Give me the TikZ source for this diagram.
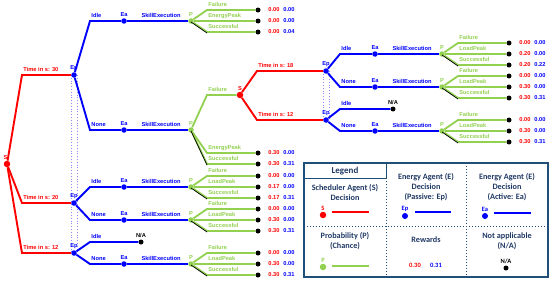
\documentclass[tikz,border=0pt]{standalone}
\usepackage{fontspec}
\setmainfont{Liberation Sans}
\newfontfamily\legfont{Carlito}
\usetikzlibrary{positioning}
\definecolor{pgreen}{RGB}{146,208,80}
\definecolor{legtext}{RGB}{31,56,100}
\definecolor{legline}{RGB}{31,78,121}
\tikzset{
  dot/.style={circle, inner sep=0pt, minimum size=5.5pt},
  sdot/.style={dot, fill=red, minimum size=6.5pt},
  edot/.style={dot, fill=blue},
  pdot/.style={dot, fill=pgreen},
  enddot/.style={dot, fill=black, minimum size=5pt},
  lbl/.style={font=\bfseries\fontsize{5.7}{6}\selectfont, inner sep=0.5pt},
  over/.style={pos=0, anchor=south west, text depth=1.2pt, yshift=0.5pt},
  mid/.style={midway, anchor=south, text depth=1.2pt, yshift=0.5pt, xshift=3.5pt},
  sline/.style={red, line width=1.9pt},
  eline/.style={blue, line width=1.9pt},
  pline/.style={pgreen, line width=1.8pt},
  infoset/.style={blue!45, dotted, line width=0.8pt},
  legtxt/.style={font=\legfont\bfseries\fontsize{8.2}{10}\selectfont, text=legtext, align=center, inner sep=0pt},
  legsym/.style={font=\legfont\bfseries\fontsize{6.5}{7}\selectfont, inner sep=0.5pt},
  legdiv/.style={legline, dotted, line width=1pt},
}
\begin{document}
\begin{tikzpicture}[x=1pt, y=-1pt]
\useasboundingbox (0,0) rectangle (550,281);

% information sets
\draw[infoset] (71,75) rectangle (77,253);
\draw[infoset] (323,71) rectangle (329,120);

% scheduler agent decisions
\node[sdot] (s0) at (7,164) {};
\node[sdot] (s1) at (240,95) {};
% passive energy agent
\node[edot] (ep30) at (74,75) {};
\node[edot] (ep20) at (74,203) {};
\node[edot] (ep12) at (74,253) {};
\node[edot] (ep18) at (326,71) {};
\node[edot] (ep12b) at (326,120) {};
% active energy agent
\node[edot] (ea1) at (124,21) {};
\node[edot] (ea2) at (124,130) {};
\node[edot] (ea3) at (124,187) {};
\node[edot] (ea4) at (124,220) {};
\node[edot] (ea5) at (124,264) {};
\node[edot] (ea6) at (375,54) {};
\node[edot] (ea7) at (375,87) {};
\node[edot] (ea8) at (375,131) {};
% chance
\node[pdot] (p1) at (191,21) {};
\node[pdot] (p2) at (191,130) {};
\node[pdot] (p3) at (191,187) {};
\node[pdot] (p4) at (191,220) {};
\node[pdot] (p5) at (191,264) {};
\node[pdot] (p6) at (442,54) {};
\node[pdot] (p7) at (442,87) {};
\node[pdot] (p8) at (442,131) {};
% not applicable
\node[enddot] (na1) at (141,242) {};
\node[enddot] (na2) at (393,109) {};

% scheduler branches
\draw[sline] (s0) -- (22,75) -- node[lbl, red, over] (t30) {Time in s: 30} (ep30);
\draw[sline] (s0) -- (22,203) -- node[lbl, red, over] (t20) {Time in s: 20} (ep20);
\draw[sline] (s0) -- (22,253) -- node[lbl, red, over] (t12) {Time in s: 12} (ep12);
\draw[sline] (s1) -- (257,71) -- node[lbl, red, over] (t18) {Time in s: 18} (ep18);
\draw[sline] (s1) -- (257,120) -- node[lbl, red, over] (t12b) {Time in s: 12} (ep12b);

% energy agent branches
\draw[eline] (ep30) -- (90,21) -- node[lbl, blue, over] (i1) {Idle} (ea1);
\draw[eline] (ep30) -- (90,130) -- node[lbl, blue, over] (n1) {None} (ea2);
\draw[eline] (ep20) -- (90,187) -- node[lbl, blue, over] (i2) {Idle} (ea3);
\draw[eline] (ep20) -- (90,220) -- node[lbl, blue, over] (n2) {None} (ea4);
\draw[eline] (ep12) -- (90,242) -- node[lbl, blue, over] (i3) {Idle} (na1);
\draw[eline] (ep12) -- (90,264) -- node[lbl, blue, over] (n3) {None} (ea5);
\draw[eline] (ep18) -- (340,54) -- node[lbl, blue, over] (i4) {Idle} (ea6);
\draw[eline] (ep18) -- (340,87) -- node[lbl, blue, over] (n4) {None} (ea7);
\draw[eline] (ep12b) -- (340,109) -- node[lbl, blue, over] (i5) {Idle} (na2);
\draw[eline] (ep12b) -- (340,131) -- node[lbl, blue, over] (n5) {None} (ea8);
\foreach \i in {1,...,8}
  \draw[eline] (ea\i) -- node[lbl, blue, mid] (sk\i) {SkillExecution} (p\i);

% chance branches
\draw[pline] (p2) -- (207,95) -- node[lbl, pgreen, over] (f2) {Failure} (s1);
\foreach \p/\e/\dy/\txt/\ra/\rb in {
  p1/e1/-11/Failure/0.00/0.00, p1/e2/0/EnergyPeak/0.00/0.00, p1/e3/11/Successful/0.00/0.04,
  p2/e4/23/EnergyPeak/0.30/0.00, p2/e5/34/Successful/0.30/0.31,
  p3/e6/-11/Failure/0.00/0.00, p3/e7/0/LoadPeak/0.17/0.00, p3/e8/11/Successful/0.17/0.31,
  p4/e9/-11/Failure/0.00/0.00, p4/e10/0/LoadPeak/0.30/0.00, p4/e11/11/Successful/0.30/0.31,
  p5/e12/-11/Failure/0.00/0.00, p5/e13/0/LoadPeak/0.30/0.00, p5/e14/11/Successful/0.30/0.31,
  p6/e15/-11/Failure/0.00/0.00, p6/e16/0/LoadPeak/0.20/0.00, p6/e17/11/Successful/0.20/0.22,
  p7/e18/-11/Failure/0.00/0.00, p7/e19/0/LoadPeak/0.30/0.00, p7/e20/11/Successful/0.30/0.31,
  p8/e21/-11/Failure/0.00/0.00, p8/e22/0/LoadPeak/0.30/0.00, p8/e23/11/Successful/0.30/0.31} {
  \node[enddot] (\e) at ([shift={(67,\dy)}]\p.center) {};
  \draw[pline] (\p) -- ++(16,\dy) -- node[lbl, pgreen, over] (\e t) {\txt} (\e);
  \node[lbl, red] (\e r) at ([xshift=16pt]\e.center) {\ra};
  \node[lbl, blue] (\e w) at ([xshift=31pt]\e.center) {\rb};
}
\foreach \p/\dy in {p1/11,p2/34,p3/11,p4/11,p5/11,p6/11,p7/11,p8/11}
  \draw[black, line width=0.7pt] ([yshift=-1pt]\p.center) -- ++(16,\dy);

% node labels
\node[lbl, red, above=0.5pt of s0, xshift=-1.5pt] (s0t) {S};
\node[lbl, red, above=0.5pt of s1] (s1t) {S};
\foreach \n in {ep30,ep20,ep12,ep18,ep12b}
  \node[lbl, blue, above=0.5pt of \n] (\n t) {Ep};
\foreach \i in {1,...,8} {
  \node[lbl, blue, above=0.5pt of ea\i] (ea\i t) {Ea};
  \node[lbl, pgreen, above=1pt of p\i] (p\i t) {P};
}
\node[lbl, above=0.5pt of na1] (na1t) {N/A};
\node[lbl, above=0.5pt of na2] (na2t) {N/A};

% legend
\draw[legline, line width=1.3pt] (304,163) rectangle (548,277);
\draw[legline, line width=1pt] (304,178) -- (386,178) -- (386,163);
\draw[legdiv] (386,178) -- (386,277);
\draw[legdiv] (466,163) -- (466,277);
\draw[legdiv] (304,226) -- (548,226);

\node[legtxt, font=\legfont\bfseries\fontsize{9}{10}\selectfont] (leg) at (345,171) {Legend};
\node[legtxt] (c1) at (345,192) {Scheduler Agent (S)\\Decision};
\node[legtxt] (c2) at (426,187) {Energy Agent (E)\\Decision\\(Passive: Ep)};
\node[legtxt] (c3) at (507,187) {Energy Agent (E)\\Decision\\(Active: Ea)};
\node[legtxt] (c4) at (345,241.5) {Probability (P)\\(Chance)};
\node[legtxt] (c5) at (426,240) {Rewards};
\node[legtxt] (c6) at (507,241.5) {Not applicable\\(N/A)};

\node[sdot] (ls) at (323,215) {};
\node[legsym, red, above=0.5pt of ls] (lst) {S};
\draw[sline] (332,212) -- (369,212);
\node[edot, minimum size=6pt] (lep) at (405,216) {};
\node[legsym, blue, above=0.5pt of lep] (lept) {Ep};
\draw[eline] (415,212) -- (451,212);
\node[edot, minimum size=6pt] (lea) at (485,216) {};
\node[legsym, blue, above=0.5pt of lea] (leat) {Ea};
\draw[eline] (494,213) -- (531,213);
\node[pdot, minimum size=6.5pt] (lp) at (323,267) {};
\node[legsym, pgreen, above=0.5pt of lp] (lpt) {P};
\draw[pline] (332,266) -- (369,266);
\node[legsym, red] (lr) at (415,265) {0.30};
\node[legsym, blue] (lb) at (436,265) {0.31};
\node[enddot] (lna) at (506,268) {};
\node[legsym, above=0.5pt of lna] (lnat) {N/A};
\end{tikzpicture}
\end{document}
